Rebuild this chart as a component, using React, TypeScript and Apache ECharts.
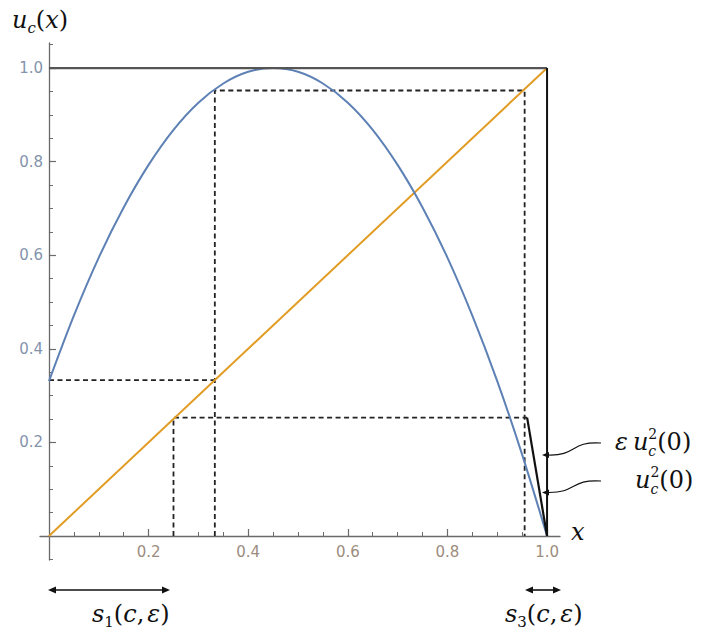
import React, { useEffect, useRef } from 'react';
import * as echarts from 'echarts';

// ---- data ----
const curveX = [0, 0.05, 0.1, 0.15, 0.2, 0.25, 0.3, 0.35, 0.4, 0.45, 0.5, 0.55, 0.6, 0.65, 0.7, 0.75, 0.8, 0.85, 0.9, 0.95, 1.0];
const curveY = [0.331, 0.471, 0.595, 0.702, 0.793, 0.868, 0.926, 0.967, 0.992, 1.0, 0.992, 0.967, 0.926, 0.868, 0.793, 0.702, 0.595, 0.471, 0.331, 0.174, 0.0];
const diagonal = [[0, 0], [1, 1]];
const frameTop = [[0, 1], [1, 1]];
const frameRight = [[1, 0], [1, 1]];
const cobwebA = [[0, 0.333], [0.333, 0.333]];
const cobwebB = [[0.333, 0], [0.333, 0.952], [0.955, 0.952], [0.955, 0]];
const cobwebC = [[0.25, 0], [0.25, 0.253], [0.96, 0.253]];
const epsSegment = [[0.96, 0.253], [1, 0]];

const xMajorTicks = [0.2, 0.4, 0.6, 0.8, 1.0];
const yMajorTicks = [0.2, 0.4, 0.6, 0.8, 1.0];
const xMinorTicks = [0.05, 0.1, 0.15, 0.25, 0.3, 0.35, 0.45, 0.5, 0.55, 0.65, 0.7, 0.75, 0.85, 0.9, 0.95];
const yMinorTicks = [-0.05, 0.05, 0.1, 0.15, 0.25, 0.3, 0.35, 0.45, 0.5, 0.55, 0.65, 0.7, 0.75, 0.85, 0.9, 0.95, 1.05];

const X_MIN = -0.018;
const X_MAX = 1.026;
const Y_MIN = -0.0513;
const Y_MAX = 1.0535;

const BLUE = '#5E81B5';
const ORANGE = '#E19C24';
const AXIS = '#6a6a6a';
const SERIF = '"DejaVu Serif"';

let measureCtx: CanvasRenderingContext2D | null = null;
function measure(text: string, font: string): number {
  if (!measureCtx) measureCtx = document.createElement('canvas').getContext('2d');
  if (!measureCtx) return text.length * 10;
  measureCtx.font = font;
  return measureCtx.measureText(text).width;
}

type Part = { t: string; s?: 'main' | 'sub'; it?: boolean; gap?: number; sup?: string };

function mathLabel(x0: number, baseline: number, parts: Part[], size = 24): any[] {
  const els: any[] = [];
  let x = x0;
  for (const p of parts) {
    if (p.gap) x += p.gap;
    const kind = p.s || 'main';
    if (p.sup) {
      // stacked superscript over subscript in one text block
      const fs = 14;
      const font = `italic ${fs}px ${SERIF}`;
      const supFont = `${fs}px ${SERIF}`;
      const wd = Math.max(measure(p.t, font), measure(p.sup, supFont));
      const supBase = baseline - 11;
      const subBase = baseline + 6;
      const lh = subBase - supBase;
      els.push({
        type: 'text',
        x,
        y: (supBase + subBase) / 2 - 0.35 * fs,
        silent: true,
        style: {
          text: `{a|${p.sup}}\n{b|${p.t}}`,
          rich: {
            a: { font: supFont, fill: '#111', lineHeight: lh },
            b: { font, fill: '#111', lineHeight: lh },
          },
          fill: '#111',
          align: 'left',
          textAlign: 'left',
          verticalAlign: 'middle',
          textVerticalAlign: 'middle',
        },
      });
      x += wd;
    } else {
      const fs = kind === 'main' ? size : Math.round(size * 0.62);
      const font = `${p.it ? 'italic ' : ''}${fs}px ${SERIF}`;
      const wd = measure(p.t, font);
      const dy = kind === 'sub' ? size * 0.2 : 0;
      els.push({
        type: 'text',
        x,
        y: baseline + dy - 0.35 * fs,
        silent: true,
        style: {
          text: p.t,
          font,
          fill: '#111',
          align: 'left',
          textAlign: 'left',
          verticalAlign: 'middle',
          textVerticalAlign: 'middle',
        },
      });
      x += wd;
    }
  }
  return els;
}

function arrowHead(tipX: number, tipY: number, dir: 1 | -1, len = 8, half = 3.5): any {
  return {
    type: 'polygon',
    silent: true,
    shape: { points: [[tipX, tipY], [tipX + dir * len, tipY - half], [tipX + dir * len, tipY + half]] },
    style: { fill: '#111' },
  };
}

function lineSeries(data: number[][], color: string, width: number, type: any = 'solid', z = 2): any {
  return {
    type: 'line',
    data,
    xAxisIndex: 0,
    yAxisIndex: 0,
    showSymbol: false,
    symbol: 'none',
    silent: true,
    z,
    lineStyle: { color, width, type },
    itemStyle: { color },
  };
}

export default function App() {
  const ref = useRef<HTMLDivElement>(null);

  useEffect(() => {
    if (!ref.current) return;
    const chart = echarts.init(ref.current, null, { renderer: 'svg' });

    const curve = curveX.map((x, i) => [x, curveY[i]]);
    const dash = [5, 3.5];

    const commonX = { type: 'value', min: X_MIN, max: X_MAX, position: 'bottom', splitLine: { show: false } };
    const commonY = { type: 'value', min: Y_MIN, max: Y_MAX, position: 'left', splitLine: { show: false } };

    const sLabel = (x0: number, idx: string) =>
      mathLabel(x0, 622, [
        { t: 's', it: true },
        { t: idx, s: 'sub' },
        { t: '(' },
        { t: 'c', it: true },
        { t: ',' },
        { t: 'ε', it: true, gap: 3 },
        { t: ')' },
      ]);

    const graphics: any[] = [
      // title u_c(x)
      ...mathLabel(12, 28, [{ t: 'u', it: true }, { t: 'c', s: 'sub', it: true }, { t: '(' }, { t: 'x', it: true }, { t: ')' }]),
      // axis label x
      ...mathLabel(571, 540, [{ t: 'x', it: true }]),
      // epsilon u_c^2(0)
      ...mathLabel(615, 450, [
        { t: 'ε', it: true },
        { t: 'u', it: true, gap: 5 },
        { t: 'c', it: true, sup: '2' },
        { t: '(0)' },
      ]),
      // u_c^2(0)
      ...mathLabel(635, 488, [
        { t: 'u', it: true },
        { t: 'c', it: true, sup: '2' },
        { t: '(0)' },
      ]),
      ...sLabel(92, '1'),
      ...sLabel(505, '3'),
      // bottom double arrows
      { type: 'line', silent: true, shape: { x1: 52, y1: 590, x2: 166, y2: 590 }, style: { stroke: '#111', lineWidth: 1.6 } },
      arrowHead(48, 590, 1),
      arrowHead(170, 590, -1),
      { type: 'line', silent: true, shape: { x1: 529, y1: 590, x2: 557, y2: 590 }, style: { stroke: '#111', lineWidth: 1.6 } },
      arrowHead(525, 590, 1),
      arrowHead(561, 590, -1),
      // curved pointer arrows
      {
        type: 'bezierCurve', silent: true,
        shape: { x1: 601, y1: 443, cpx1: 570, cpy1: 441, cpx2: 577, cpy2: 456, x2: 548, y2: 455 },
        style: { stroke: '#111', lineWidth: 1.2, fill: 'none' },
      },
      arrowHead(542, 455, 1, 7, 3),
      {
        type: 'bezierCurve', silent: true,
        shape: { x1: 601, y1: 481, cpx1: 570, cpy1: 479, cpx2: 577, cpy2: 493, x2: 548, y2: 492.5 },
        style: { stroke: '#111', lineWidth: 1.2, fill: 'none' },
      },
      arrowHead(542, 492.5, 1, 7, 3),
    ];

    const option: any = {
      animation: false,
      backgroundColor: '#ffffff',
      grid: { left: 40, right: 147, top: 43, bottom: 84, containLabel: false },
      xAxis: [
        {
          ...commonX,
          axisLine: { show: true, onZero: true, onZeroAxisIndex: 0, lineStyle: { color: AXIS, width: 1.3 } },
          axisTick: { show: true, inside: true, length: 7, customValues: xMajorTicks, lineStyle: { color: AXIS, width: 1.2 } },
          axisLabel: {
            show: true,
            customValues: xMajorTicks,
            formatter: (v: number) => v.toFixed(1),
            color: '#9c8c7e',
            fontFamily: 'DejaVu Sans',
            fontSize: 15,
            margin: -16,
          },
        },
        {
          ...commonX,
          axisLine: { show: true, onZero: true, onZeroAxisIndex: 0, lineStyle: { color: AXIS, width: 0, opacity: 0 } },
          axisTick: { show: true, inside: true, length: 4, customValues: xMinorTicks, lineStyle: { color: AXIS, width: 1 } },
          axisLabel: { show: false },
        },
      ],
      yAxis: [
        {
          ...commonY,
          axisLine: { show: true, onZero: true, onZeroAxisIndex: 0, lineStyle: { color: AXIS, width: 1.3 } },
          axisTick: { show: true, inside: true, length: 7, customValues: yMajorTicks, lineStyle: { color: AXIS, width: 1.2 } },
          axisLabel: {
            show: true,
            customValues: yMajorTicks,
            formatter: (v: number) => v.toFixed(1),
            color: '#8494ad',
            fontFamily: 'DejaVu Sans',
            fontSize: 15,
            margin: -3,
          },
        },
        {
          ...commonY,
          axisLine: { show: true, onZero: true, onZeroAxisIndex: 0, lineStyle: { color: AXIS, width: 0, opacity: 0 } },
          axisTick: { show: true, inside: true, length: 4, customValues: yMinorTicks, lineStyle: { color: AXIS, width: 1 } },
          axisLabel: { show: false },
        },
      ],
      series: [
        lineSeries(cobwebA, '#222', 1.8, dash, 2),
        lineSeries(cobwebB, '#222', 1.8, dash, 2),
        lineSeries(cobwebC, '#222', 1.8, dash, 2),
        lineSeries(diagonal, ORANGE, 2, 'solid', 3),
        { ...lineSeries(curve, BLUE, 2, 'solid', 4), smooth: 0.3 },
        lineSeries(frameTop, '#555', 2.2, 'solid', 5),
        lineSeries(frameRight, '#111', 2, 'solid', 5),
        lineSeries(epsSegment, '#111', 2.2, 'solid', 6),
      ],
      graphic: graphics,
    };

    chart.setOption(option);
    return () => chart.dispose();
  }, []);

  return <div ref={ref} style={{ position: 'fixed', left: 0, top: 0, width: 707, height: 644 }} />;
}
